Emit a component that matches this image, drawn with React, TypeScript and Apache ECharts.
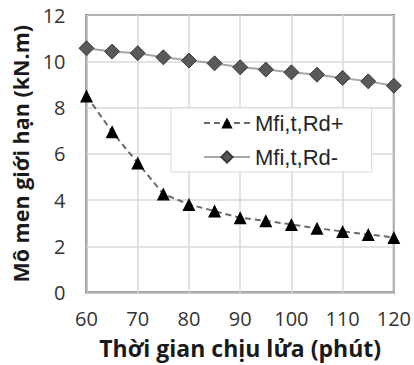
import React, { useEffect, useRef } from "react";
import * as echarts from "echarts";

const times = [60, 65, 70, 75, 80, 85, 90, 95, 100, 105, 110, 115, 120];
const mPlus = [8.5, 6.95, 5.6, 4.26, 3.81, 3.52, 3.23, 3.1, 2.94, 2.78, 2.64, 2.51, 2.38];
const mMinus = [10.56, 10.42, 10.35, 10.17, 10.03, 9.91, 9.74, 9.64, 9.52, 9.42, 9.28, 9.13, 8.94];
const seriesNames = ["Mfi,t,Rd+", "Mfi,t,Rd-"];
const xName = "Thời gian chịu lửa (phút)";
const yName = "Mô men giới hạn (kN.m)";

const FONT = "'Open Sans', 'Noto Sans', sans-serif";
const LEGEND_FONT = "'Liberation Sans', Arial, sans-serif";

export default function App() {
  const ref = useRef<HTMLDivElement>(null);
  useEffect(() => {
    if (!ref.current) return;
    const chart = echarts.init(ref.current, undefined, { renderer: "svg" });
    chart.setOption({
      animation: false,
      backgroundColor: "#ffffff",
      textStyle: { fontFamily: FONT },
      grid: {
        left: 86.5,
        right: 18,
        top: 15,
        bottom: 72.5,
        show: true,
        borderColor: "#404040",
        borderWidth: 2,
        backgroundColor: "transparent",
      },
      legend: {
        orient: "vertical",
        left: 171,
        top: 108,
        backgroundColor: "#ffffff",
        borderColor: "#d9d9d9",
        borderWidth: 1,
        borderRadius: 0,
        padding: [4, 28, 4, 32],
        itemWidth: 46,
        itemHeight: 14,
        itemGap: 12,
        textStyle: { fontFamily: LEGEND_FONT, fontSize: 22, color: "#262626" },
        data: seriesNames,
      },
      xAxis: {
        type: "value",
        min: 60,
        max: 120,
        interval: 10,
        name: xName,
        nameLocation: "middle",
        nameGap: 44,
        nameTextStyle: { fontFamily: FONT, fontSize: 23, fontWeight: "bold", color: "#1a1a1a" },
        axisLine: { show: false },
        axisTick: { show: false },
        axisLabel: { fontFamily: FONT, fontSize: 20, color: "#333333", margin: 16 },
        splitLine: { show: true, lineStyle: { color: "#d9d9d9", width: 1.5 } },
      },
      yAxis: {
        type: "value",
        min: 0,
        max: 12,
        interval: 2,
        name: yName,
        nameLocation: "middle",
        nameGap: 46,
        nameTextStyle: { fontFamily: FONT, fontSize: 21.5, fontWeight: "bold", color: "#1a1a1a" },
        axisLine: { show: false },
        axisTick: { show: false },
        axisLabel: { fontFamily: FONT, fontSize: 20, color: "#333333", margin: 21 },
        splitLine: { show: true, lineStyle: { color: "#d9d9d9", width: 1.5 } },
      },
      series: [
        {
          name: seriesNames[0],
          type: "line",
          data: times.map((t, i) => [t, mPlus[i]]),
          symbol: "triangle",
          symbolSize: 13,
          itemStyle: { color: "#000000" },
          lineStyle: { color: "#6b6b6b", width: 2, type: [6, 4] },
          z: 3,
        },
        {
          name: seriesNames[1],
          type: "line",
          data: times.map((t, i) => [t, mMinus[i]]),
          symbol: "diamond",
          symbolSize: 15,
          itemStyle: { color: "#595959", borderColor: "#3a3a3a", borderWidth: 1 },
          lineStyle: { color: "#a6a6a6", width: 2 },
          z: 3,
        },
      ],
    });
    return () => chart.dispose();
  }, []);
  return (
    <div
      ref={ref}
      style={{ position: "fixed", left: 0, top: 0, width: 414, height: 365 }}
    />
  );
}
